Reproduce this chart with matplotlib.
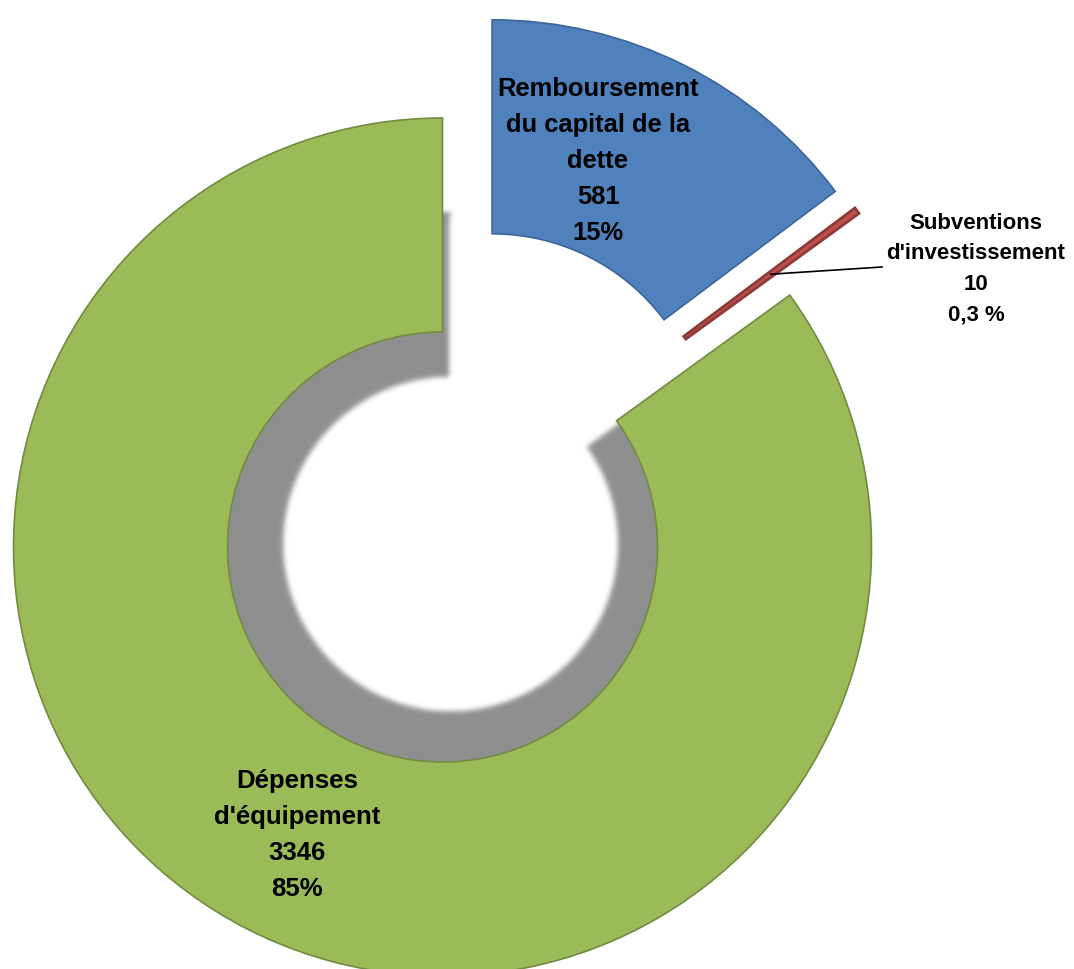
import numpy as np
import matplotlib.pyplot as plt

# investment spending split (k€)
labels = ["Remboursement\ndu capital de la\ndette", "Subventions\nd'investissement", "Dépenses\nd'équipement"]
values = [581, 10, 3346]
colors = ["#4F81BD", "#C0504D", "#9BBB59"]
edge_colors = ["#3C6699", "#8E3A38", "#728B40"]

W, H = 1074, 969


def blur(img, dpi, sigma=3.0):
    # gaussian blur used for the soft drop shadow
    r = int(3 * sigma)
    k = np.exp(-np.arange(-r, r + 1) ** 2 / (2 * sigma ** 2))
    k /= k.sum()
    pad = np.pad(img, ((r, r), (r, r), (0, 0)))
    tmp = np.zeros_like(pad)
    for i, w in enumerate(k):
        tmp += w * np.roll(pad, i - r, axis=0)
    out = np.zeros_like(pad)
    for i, w in enumerate(k):
        out += w * np.roll(tmp, i - r, axis=1)
    return out, -r, -r


fig = plt.figure(figsize=(W / 100, H / 100), dpi=100)
ax = fig.add_axes([0, 0, 1, 1])

R, ring = 429, 214
center = (467.5, H - 498)
explode_px = 55  # pie explode is in data units

# shadow ring behind the big slice
shadow_R = 330
sh, _ = ax.pie(values, radius=shadow_R, center=(center[0] + 8, center[1] + 3),
               explode=[explode_px] * 3, startangle=90, counterclock=False,
               wedgeprops=dict(width=shadow_R - 166, linewidth=0))
for w in sh[:2]:
    w.set_visible(False)
sh[2].set_facecolor("#8F8F8F")
sh[2].set_agg_filter(blur)
sh[2].set_zorder(1)

wedges, _ = ax.pie(values, radius=R, center=center, explode=[explode_px] * 3,
                   startangle=90, counterclock=False, colors=colors,
                   wedgeprops=dict(width=ring, linewidth=1.2))
for w, ec in zip(wedges, edge_colors):
    w.set_edgecolor(ec)
    w.set_zorder(2)
wedges[1].set_linewidth(2)

total = sum(values)
pct = [v / total * 100 for v in values]
font = ["Liberation Sans", "DejaVu Sans"]

ax.text(598, H - 161, f"{labels[0]}\n{values[0]}\n{pct[0]:.0f}%", ha="center", va="center",
        fontsize=18.4, fontweight="bold", family=font, linespacing=1.63, zorder=5)
ax.text(297, H - 835, f"{labels[2]}\n{values[2]}\n{pct[2]:.0f}%", ha="center", va="center",
        fontsize=18.5, fontweight="bold", family=font, linespacing=1.63, zorder=5)
small = f"{pct[1]:.1f}".replace(".", ",")
ax.text(976, H - 269, f"{labels[1]}\n{values[1]}\n{small} %", ha="center", va="center",
        fontsize=16, fontweight="bold", family=font, linespacing=1.6, zorder=5)

# leader line from the thin slice to its label
red = wedges[1]
mid = np.deg2rad((red.theta1 + red.theta2) / 2)
rm = red.r - red.width / 2
x0 = red.center[0] + rm * np.cos(mid)
y0 = red.center[1] + rm * np.sin(mid)
ax.plot([x0, 882], [y0, H - 267], color="black", lw=1.2, zorder=4)

ax.set_xlim(0, W)
ax.set_ylim(0, H)
ax.set_aspect("equal")
ax.axis("off")
fig.savefig("out.png", dpi=100, facecolor="white")
